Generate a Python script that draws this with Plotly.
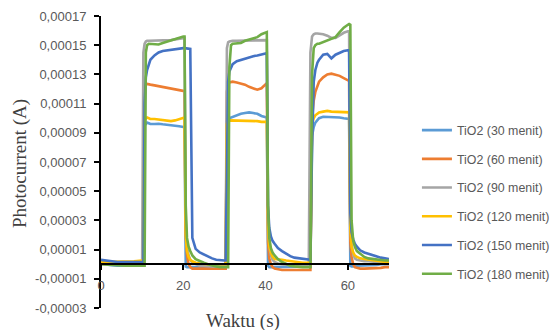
import plotly.graph_objects as go

# Time (s)
TIME = [0, 2, 4, 6, 8, 10,
        10.3, 10.6, 10.9, 11.2, 11.6, 12,
        13, 14, 15, 16, 17, 18, 19, 20,
        20.3, 20.6, 20.9, 21.3, 21.7, 22.2,
        23, 24, 25, 26, 27, 28, 29, 30,
        30.3, 30.6, 30.9, 31.2, 31.6, 32,
        33, 34, 35, 36, 37, 38, 39, 40,
        40.3, 40.6, 40.9, 41.3, 41.7, 42.2,
        43, 44, 45, 46, 47, 48, 49, 50,
        50.5, 50.9, 51.3, 51.7, 52.1, 52.6,
        53, 54, 55, 56, 57, 58, 59, 60,
        60.3, 60.6, 60.9, 61.3, 61.7, 62.2,
        63, 64, 65, 66, 67, 68, 69, 70]

UNIT = 1e-5  # values below are in units of 1e-5 A

TIO2_30 = [0.1, -0.05, -0.1, -0.1, -0.1, -0.1,
           -0.1, 9.5, 9.65, 9.7, 9.65, 9.6,
           9.6, 9.62, 9.58, 9.55, 9.55, 9.5, 9.45, 9.4,
           9.4, -0.15, -0.2, -0.2, -0.2, -0.2,
           -0.2, -0.2, -0.2, -0.2, -0.2, -0.2, -0.2, -0.2,
           -0.2, 9.8, 10.0, 10.0, 10.05, 10.1,
           10.2, 10.3, 10.35, 10.4, 10.35, 10.3, 10.15, 10.1,
           10.05, -0.1, -0.2, -0.2, -0.2, -0.2,
           -0.2, -0.2, -0.2, -0.15, -0.15, -0.15, -0.15, -0.15,
           -0.15, -0.15, 8.8, 9.4, 9.7, 9.9,
           10.0, 10.1, 10.1, 10.1, 10.05, 10.05, 10.0, 9.95,
           9.95, -0.1, -0.15, -0.15, -0.1, -0.1,
           -0.1, -0.1, -0.1, -0.05, -0.05, 0.0, 0.0, 0.0]

TIO2_60 = [0.1, 0.05, 0.0, 0.0, 0.0, 0.0,
           0.0, 12.0, 12.3, 12.35, 12.3, 12.3,
           12.25, 12.2, 12.15, 12.1, 12.05, 12.0, 11.95, 11.85,
           11.85, 2.0, 0.6, 0.0, -0.2, -0.3,
           -0.3, -0.3, -0.3, -0.3, -0.3, -0.3, -0.3, -0.3,
           -0.3, 11.8, 12.3, 12.45, 12.5, 12.5,
           12.45, 12.4, 12.3, 12.15, 12.05, 11.95, 12.05, 12.35,
           12.4, 1.5, 0.4, 0.0, -0.2, -0.3,
           -0.35, -0.4, -0.4, -0.4, -0.4, -0.4, -0.4, -0.4,
           -0.4, -0.4, 10.0, 11.2, 11.8, 12.2,
           12.5, 12.8, 13.0, 13.05, 13.0, 12.9, 12.75, 12.6,
           12.55, 1.5, 0.5, 0.0, -0.2, -0.25,
           -0.3, -0.3, -0.3, -0.3, -0.25, -0.25, -0.2, -0.2]

TIO2_90 = [0.0, 0.0, 0.0, 0.0, 0.0, 0.0,
           14.5, 15.1, 15.25, 15.3, 15.3, 15.3,
           15.3, 15.3, 15.3, 15.3, 15.35, 15.4, 15.45, 15.5,
           15.5, 3.0, 1.2, 0.6, 0.3, 0.1,
           0.0, -0.1, -0.1, -0.15, -0.15, -0.15, -0.15, -0.15,
           -0.1, 14.8, 15.2, 15.25, 15.3, 15.3,
           15.3, 15.3, 15.3, 15.3, 15.3, 15.32, 15.35, 15.35,
           15.35, 3.0, 1.2, 0.6, 0.3, 0.15,
           0.05, 0.0, -0.05, -0.1, -0.1, -0.1, -0.1, -0.1,
           -0.1, 14.5, 15.6, 15.75, 15.8, 15.8,
           15.8, 15.75, 15.65, 15.5, 15.5, 15.7, 15.85, 15.95,
           15.95, 3.0, 1.3, 0.7, 0.4, 0.3,
           0.25, 0.2, 0.2, 0.15, 0.15, 0.15, 0.15, 0.15]

TIO2_120 = [0.15, 0.15, 0.15, 0.2, 0.2, 0.25,
            0.25, 9.8, 10.0, 10.05, 10.0, 9.95,
            9.95, 9.9, 9.85, 9.8, 9.8, 9.85, 9.95, 10.05,
            10.05, 2.0, 0.9, 0.5, 0.3, 0.2,
            0.1, 0.05, 0.0, 0.0, 0.0, 0.0, 0.0, 0.0,
            0.0, 9.6, 9.8, 9.85, 9.85, 9.85,
            9.85, 9.85, 9.85, 9.8, 9.8, 9.8, 9.75, 9.75,
            9.75, 2.5, 1.2, 0.8, 0.5, 0.35,
            0.35, 0.3, 0.25, 0.2, 0.2, 0.15, 0.1, 0.1,
            0.1, 0.1, 9.6, 10.0, 10.2, 10.3,
            10.4, 10.45, 10.5, 10.45, 10.45, 10.45, 10.45, 10.4,
            10.4, 2.5, 1.2, 0.8, 0.6, 0.5,
            0.4, 0.35, 0.3, 0.25, 0.2, 0.2, 0.15, 0.15]

TIO2_150 = [0.3, 0.2, 0.15, 0.15, 0.15, 0.15,
            0.15, 11.0, 12.8, 13.3, 13.7, 14.0,
            14.3, 14.5, 14.6, 14.65, 14.7, 14.75, 14.75, 14.8,
            14.8, 14.8, 14.8, 14.8, 14.75, 1.8,
            1.05, 0.8, 0.65, 0.5, 0.4, 0.3, 0.25, 0.25,
            0.25, 9.0, 12.5, 13.2, 13.5, 13.7,
            13.9, 14.0, 14.1, 14.2, 14.25, 14.3, 14.35, 14.45,
            14.45, 4.0, 2.5, 1.9, 1.6, 1.4,
            1.1, 0.9, 0.7, 0.55, 0.45, 0.4, 0.35, 0.3,
            0.3, 0.3, 8.0, 12.5, 13.3, 13.8,
            14.0, 14.35, 14.4, 14.1, 14.35, 14.5, 14.6, 14.65,
            14.65, 3.5, 2.2, 1.7, 1.4, 1.2,
            0.95, 0.8, 0.7, 0.6, 0.5, 0.45, 0.4, 0.35]

TIO2_180 = [0.0, -0.05, -0.1, -0.1, -0.1, -0.1,
            -0.1, -0.1, 14.5, 15.0, 15.1, 15.1,
            15.1, 15.05, 15.15, 15.25, 15.35, 15.45, 15.55, 15.6,
            15.6, 4.0, 1.8, 1.2, 0.9, 0.6,
            0.35, 0.2, 0.1, 0.0, -0.1, -0.15, -0.2, -0.2,
            -0.2, -0.2, -0.2, 13.5, 15.0, 15.1,
            15.1, 15.15, 15.3, 15.4, 15.45, 15.55, 15.75, 15.9,
            15.9, 4.0, 1.8, 1.1, 0.8, 0.6,
            0.35, 0.15, 0.0, -0.1, -0.15, -0.2, -0.2, -0.2,
            -0.2, -0.2, 13.0, 14.8, 15.0, 15.1,
            15.1, 15.2, 15.35, 15.45, 15.55, 15.9, 16.2, 16.4,
            16.45, 16.4, 3.0, 1.6, 1.2, 0.9,
            0.7, 0.5, 0.4, 0.35, 0.3, 0.3, 0.25, 0.25]

SERIES_NAMES = ["TiO2 (30 menit)", "TiO2 (60 menit)", "TiO2 (90 menit)",
                "TiO2 (120 menit)", "TiO2 (150 menit)", "TiO2 (180 menit)"]
SERIES_VALUES = [TIO2_30, TIO2_60, TIO2_90, TIO2_120, TIO2_150, TIO2_180]
COLORS = ["#5B9BD5", "#ED7D31", "#A5A5A5", "#FFC000", "#4472C4", "#70AD47"]

Y_TICKS = [-0.00003, -0.00001, 0.00001, 0.00003, 0.00005, 0.00007,
           0.00009, 0.00011, 0.00013, 0.00015, 0.00017]
Y_TICK_TEXT = ["-0,00003", "-0,00001", "0,00001", "0,00003", "0,00005", "0,00007",
               "0,00009", "0,00011", "0,00013", "0,00015", "0,00017"]
X_TICKS = [0, 20, 40, 60]

fig = go.Figure()
for i, (name, vals, col) in enumerate(zip(SERIES_NAMES, SERIES_VALUES, COLORS)):
    fig.add_trace(go.Scatter(
        x=TIME, y=[v * UNIT for v in vals], mode="lines", name=name,
        line=dict(color=col, width=2.6), legendgroup=f"g{i}",
    ))

tick_font = dict(family="Liberation Sans, Arial, sans-serif", size=13, color="#595959")
title_font = dict(family="Liberation Serif, Times New Roman, serif", size=19, color="#404040")

fig.update_layout(
    width=550, height=322,
    margin=dict(l=93, r=169, t=8, b=22, autoexpand=False),
    paper_bgcolor="white", plot_bgcolor="white",
    showlegend=True,
    legend=dict(
        x=1.097, xanchor="left", y=0.659, yanchor="top",
        font=dict(family="Liberation Sans, Arial, sans-serif", size=12.4, color="#595959"),
        tracegroupgap=9.6, itemwidth=30, bgcolor="rgba(0,0,0,0)",
    ),
    xaxis=dict(
        range=[0, 70], tickvals=X_TICKS, ticktext=[str(v) for v in X_TICKS],
        showgrid=False, zeroline=False, showline=True, linecolor="black", linewidth=2,
        ticks="outside", ticklen=5, tickwidth=1.5, tickcolor="black",
        anchor="free", position=0.15, tickfont=tick_font, ticklabelstandoff=4,
        automargin=False,
    ),
    yaxis=dict(
        range=[-0.00003, 0.00017], tickvals=Y_TICKS, ticktext=Y_TICK_TEXT,
        showgrid=False, zeroline=False, showline=True, linecolor="black", linewidth=2,
        ticks="outside", ticklen=5, tickwidth=1.5, tickcolor="black",
        tickfont=tick_font, ticklabelstandoff=5, automargin=False,
    ),
    annotations=[
        dict(text="Waktu (s)", xref="paper", yref="paper", x=0.493, y=-0.045,
             xanchor="center", yanchor="middle", showarrow=False, font=title_font),
        dict(text="Photocurrent (A)", xref="paper", yref="paper", x=-0.281, y=0.493,
             xanchor="center", yanchor="middle", textangle=-90, showarrow=False,
             font=title_font),
    ],
)

fig.write_html("out.html")
